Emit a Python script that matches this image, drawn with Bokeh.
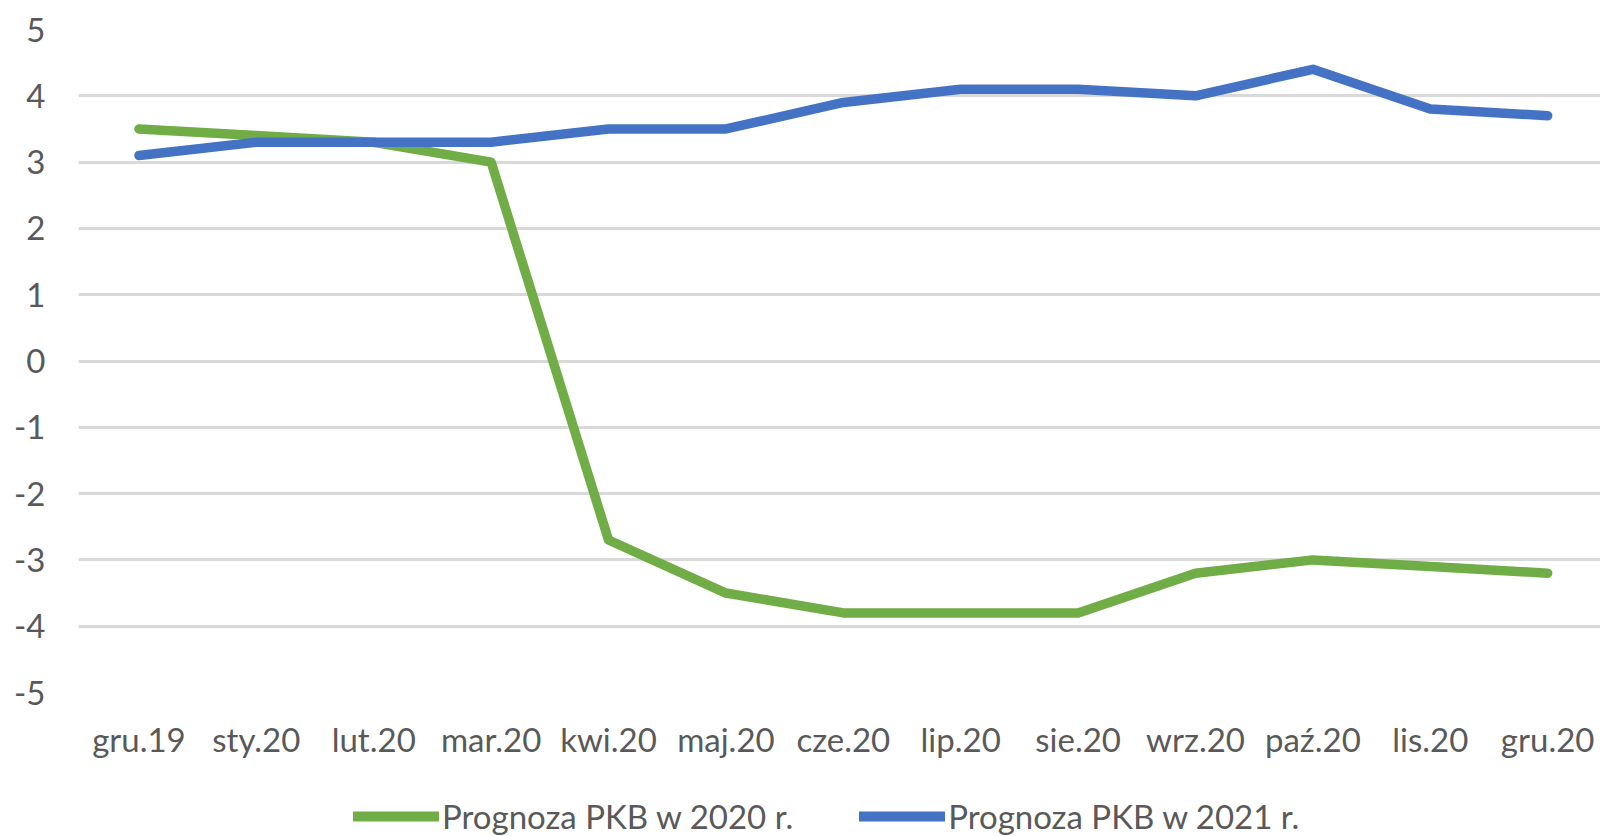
from bokeh.plotting import figure
from bokeh.layouts import column
from bokeh.models import ColumnDataSource, Legend, LegendItem, FixedTicker, Range1d
from bokeh.embed import file_html
from bokeh.resources import INLINE

months = ["gru.19", "sty.20", "lut.20", "mar.20", "kwi.20", "maj.20", "cze.20",
          "lip.20", "sie.20", "wrz.20", "paź.20", "lis.20", "gru.20"]
gdp_2020 = [3.5, 3.4, 3.3, 3.0, -2.7, -3.5, -3.8, -3.8, -3.8, -3.2, -3.0, -3.1, -3.2]
gdp_2021 = [3.1, 3.3, 3.3, 3.3, 3.5, 3.5, 3.9, 4.1, 4.1, 4.0, 4.4, 3.8, 3.7]
y_ticks = [-5, -4, -3, -2, -1, 0, 1, 2, 3, 4, 5]
series_names = ["Prognoza PKB w 2020 r.", "Prognoza PKB w 2021 r."]
colors = ["#70ad47", "#4472c4"]

idx = list(range(len(months)))
src = ColumnDataSource(dict(x=idx, a=gdp_2020, b=gdp_2021))

FONT = "Lato"
GREY = "#595959"
FS = "33px"
W = 1600

p = figure(width=W, height=770, output_backend="svg", toolbar_location=None,
           x_range=Range1d(-0.515, 12.45), y_range=Range1d(-5, 5),
           min_border_left=78, min_border_top=29, min_border_right=0,
           min_border_bottom=78)
p.outline_line_color = None

p.line("x", "a", source=src, line_color=colors[0], line_width=9.5,
       line_cap="round", line_join="round")
p.line("x", "b", source=src, line_color=colors[1], line_width=9.5,
       line_cap="round", line_join="round")

p.xaxis.ticker = FixedTicker(ticks=idx)
p.xaxis.major_label_overrides = {i: m for i, m in enumerate(months)}
p.yaxis.ticker = FixedTicker(ticks=y_ticks)
p.yaxis.major_label_overrides = {t: str(t) for t in y_ticks}

for ax in (p.xaxis, p.yaxis):
    ax.axis_line_color = None
    ax.major_tick_line_color = None
    ax.minor_tick_line_color = None
    ax.major_label_text_font = FONT
    ax.major_label_text_font_size = FS
    ax.major_label_text_color = GREY
p.xaxis.major_label_standoff = 20
p.yaxis.major_label_standoff = 27

p.xgrid.grid_line_color = None
p.ygrid.grid_line_color = "#d9d9d9"
p.ygrid.grid_line_width = 3

# legend strip below the chart
q = figure(width=W, height=66, output_backend="svg", toolbar_location=None,
           x_range=Range1d(0, 1), y_range=Range1d(0, 1),
           x_axis_type=None, y_axis_type=None,
           min_border_left=0, min_border_right=0, min_border_top=0,
           min_border_bottom=0)
q.outline_line_color = None
q.grid.visible = False
r1 = q.line(x=[5, 6], y=[5, 5], line_color=colors[0], line_width=10, line_cap="round")
r2 = q.line(x=[5, 6], y=[5, 5], line_color=colors[1], line_width=10, line_cap="round")

legend = Legend(items=[LegendItem(label=series_names[0], renderers=[r1]),
                       LegendItem(label=series_names[1], renderers=[r2])],
                orientation="horizontal", location=(275, 0),
                label_text_font=FONT, label_text_font_size=FS,
                label_text_color=GREY, glyph_width=86, glyph_height=24,
                label_standoff=3, spacing=66, border_line_color=None,
                background_fill_alpha=0, margin=0, padding=0)
q.add_layout(legend)

layout = column(p, q, spacing=0)
open("out.html", "w").write(file_html(layout, INLINE))
